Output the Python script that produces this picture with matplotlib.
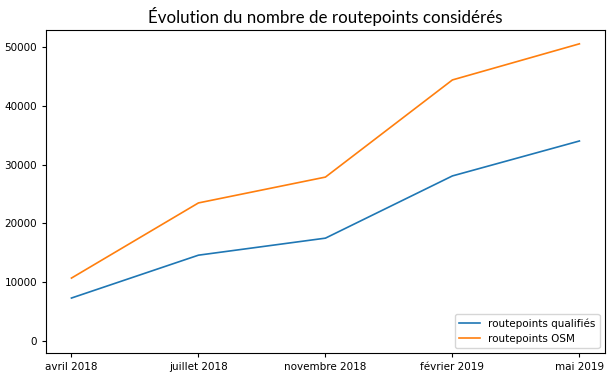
import matplotlib
matplotlib.use("Agg")
import matplotlib.pyplot as plt

# dates du relevé
mois = ["avril 2018", "juillet 2018", "novembre 2018", "février 2019", "mai 2019"]
qualifies = [7300, 14600, 17500, 28100, 34050]
osm = [10700, 23500, 27900, 44450, 50600]

fig, ax = plt.subplots(figsize=(6.14, 3.79), dpi=100)
ax.plot(mois, qualifies, color="#1f77b4", lw=1.2, label="routepoints qualifiés")
ax.plot(mois, osm, color="#ff7f0e", lw=1.2, label="routepoints OSM")
ax.set_ylim(-2100, 52900)
ax.tick_params(labelsize=7.5, length=3)
ax.set_title("Évolution du nombre de routepoints considérés", fontsize=12.2,
             family="Lato", pad=5)
ax.legend(loc="lower right", fontsize=7.5)

fig.subplots_adjust(left=0.075, right=0.985, top=0.92, bottom=0.068)
fig.savefig("out.png", dpi=100)
